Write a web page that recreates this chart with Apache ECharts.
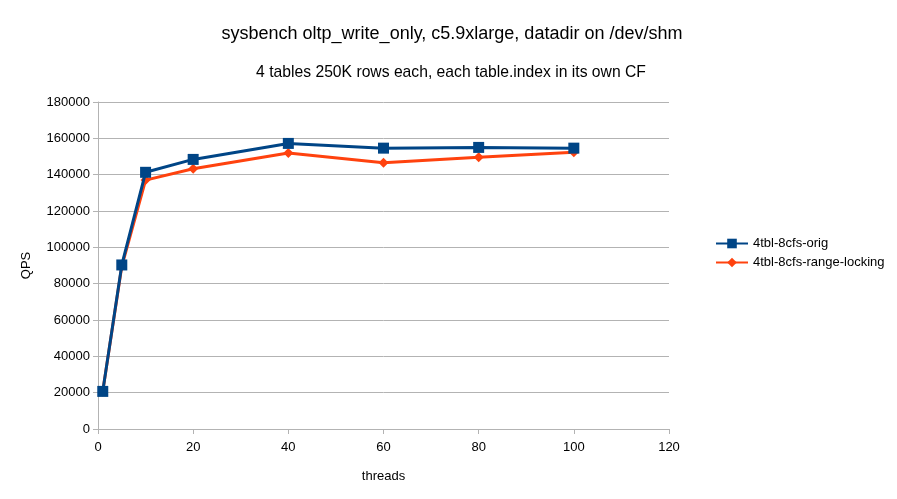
<!DOCTYPE html>
<html><head><meta charset="utf-8">
<script src="https://cdn.jsdelivr.net/npm/echarts@6/dist/echarts.min.js"></script>
<style>html,body{margin:0;padding:0;background:#fff}#c{width:897px;height:499px}</style>
</head><body><div id="c"></div>
<script>
const threads = [1, 5, 10, 20, 40, 60, 80, 100];
const origQps = [20700, 90300, 141300, 148400, 157200, 154600, 155000, 154600];
const rangeQps = [20700, 89600, 137000, 143300, 151900, 146600, 149600, 152300];
const seriesNames = ['4tbl-8cfs-orig', '4tbl-8cfs-range-locking'];

const font = 'Liberation Sans, Arial, sans-serif';
const chart = echarts.init(document.getElementById('c'));
chart.setOption({
  animation: false,
  backgroundColor: '#fff',
  textStyle: { fontFamily: font },
  title: [
    { text: 'sysbench oltp_write_only, c5.9xlarge, datadir on /dev/shm', left: 447, top: 20, textAlign: 'center',
      textStyle: { fontFamily: font, fontSize: 18, fontWeight: 'normal', color: '#000' } },
    { text: '4 tables 250K rows each, each table.index in its own CF', left: 446, top: 60, textAlign: 'center',
      textStyle: { fontFamily: font, fontSize: 15.7, fontWeight: 'normal', color: '#000' } }
  ],
  grid: { left: 98, right: 228, top: 102, bottom: 70, containLabel: false },
  legend: {
    orient: 'vertical', left: 710, top: 232, itemGap: 6, itemWidth: 32, itemHeight: 12,
    textStyle: { fontFamily: font, fontSize: 13, color: '#000' },
    data: seriesNames
  },
  xAxis: {
    type: 'value', min: 0, max: 120, interval: 20,
    name: 'threads', nameLocation: 'middle', nameGap: 41,
    nameTextStyle: { fontFamily: font, fontSize: 13, color: '#000' },
    axisLine: { lineStyle: { color: '#b3b3b3' } },
    axisTick: { show: true, length: 5, inside: false, lineStyle: { color: '#b3b3b3' } },
    axisLabel: { color: '#000', fontSize: 13, fontFamily: font, margin: 12 },
    splitLine: { show: false }
  },
  yAxis: {
    type: 'value', min: 0, max: 180000, interval: 20000,
    name: 'QPS', nameLocation: 'middle', nameGap: 65, nameRotate: 90,
    nameTextStyle: { fontFamily: font, fontSize: 13, color: '#000' },
    axisLine: { show: true, lineStyle: { color: '#b3b3b3' } },
    axisTick: { show: true, length: 5, lineStyle: { color: '#b3b3b3' } },
    axisLabel: { color: '#000', fontSize: 13, fontFamily: font, margin: 8, formatter: v => String(v) },
    splitLine: { show: true, lineStyle: { color: '#b3b3b3' } }
  },
  series: [
    { name: seriesNames[0], type: 'line', data: threads.map((t, i) => [t, origQps[i]]),
      color: '#004586', lineStyle: { width: 3, color: '#004586' },
      symbol: 'rect', symbolSize: 11, itemStyle: { color: '#004586' }, z: 3 },
    { name: seriesNames[1], type: 'line', data: threads.map((t, i) => [t, rangeQps[i]]),
      color: '#ff420e', lineStyle: { width: 3, color: '#ff420e' },
      symbol: 'diamond', symbolSize: 10, itemStyle: { color: '#ff420e' }, z: 2 }
  ]
});
</script></body></html>
